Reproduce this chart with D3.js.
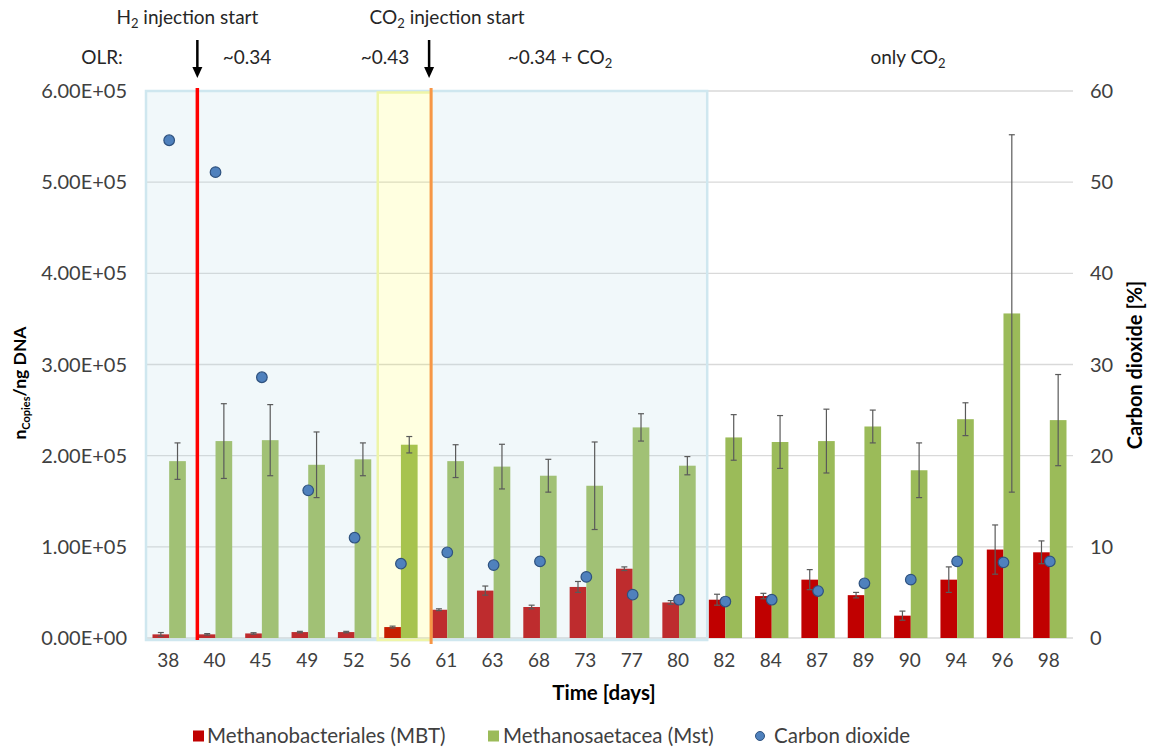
<!DOCTYPE html>
<html>
<head>
<meta charset="utf-8">
<script src="https://cdn.jsdelivr.net/npm/d3@7"></script>
<style>
  body { margin: 0; background: #fff; }
  svg { font-family: Lato, "Open Sans", sans-serif; }
</style>
</head>
<body>
<svg id="chart" width="1149" height="755"></svg>
<script>
// data
var days = ["38","40","45","49","52","56","61","63","68","73","77","80","82","84","87","89","90","94","96","98"];
var mbt    = [4000, 4000, 5000, 6500, 6500, 12000, 31000, 52000, 34000, 56000, 76000, 39000, 42000, 46000, 64000, 47000, 24500, 64000, 97000, 94000];
var mbtErr = [2000, 800, 800, 800, 800, 1000, 1000, 5000, 2000, 6000, 2000, 2000, 6000, 3000, 11000, 3000, 5000, 14000, 27000, 12500];
var mst    = [194000, 216000, 217000, 190000, 196000, 212000, 194000, 188000, 178000, 167000, 231000, 189000, 220000, 215000, 216000, 232000, 184000, 240000, 356000, 239000];
var mstErr = [20000, 41000, 39000, 36000, 18000, 9000, 18000, 24500, 18000, 48000, 15000, 10000, 25000, 29000, 35000, 18000, 30000, 18000, 196000, 50000];
var co2    = [54.6, 51.1, 28.6, 16.2, 11.0, 8.15, 9.4, 8.0, 8.4, 6.7, 4.75, 4.2, 4.0, 4.2, 5.15, 6.0, 6.4, 8.4, 8.3, 8.4];
var leftTicks = [0, 100000, 200000, 300000, 400000, 500000, 600000];
var rightTicks = [0, 10, 20, 30, 40, 50, 60];
var seriesNames = ["Methanobacteriales (MBT)", "Methanosaetacea (Mst)", "Carbon dioxide"];

var colRed = "#C00000", colGreen = "#9BBB59", colDot = "#4F81BD";

var svg = d3.select("#chart");
var margin = {top: 91, left: 146, right: 76, bottom: 117};
var W = 1149, H = 755;
var iw = W - margin.left - margin.right;
var ih = H - margin.top - margin.bottom;

var g = svg.append("g").attr("transform", "translate(" + margin.left + "," + margin.top + ")");

var x = d3.scaleBand().domain(days).range([0, iw]).paddingInner(0).paddingOuter(0);
var sub = d3.scaleBand().domain(["mbt", "mst"]).range([6.5, x.bandwidth() - 6.5]);
var y = d3.scaleLinear().domain([0, 600000]).range([ih, 0]);
var yR = d3.scaleLinear().domain([0, 60]).range([ih, 0]);

function sci(d) {
    var p = d.toExponential(2).split("e");
    var e = +p[1];
    return p[0] + "E" + (e < 0 ? "-" : "+") + String(Math.abs(e)).padStart(2, "0");
}

// gridlines
g.selectAll(".grid").data(leftTicks).enter().append("line")
    .attr("x1", 0).attr("x2", iw)
    .attr("y1", d => y(d)).attr("y2", d => y(d))
    .attr("stroke", "#D9D9D9").attr("stroke-width", 1.3);

// bars
g.selectAll(".mbt").data(days).enter().append("rect")
    .attr("x", d => x(d) + sub("mbt"))
    .attr("y", (d, i) => y(mbt[i]))
    .attr("width", sub.bandwidth())
    .attr("height", (d, i) => ih - y(mbt[i]))
    .attr("fill", colRed);
g.selectAll(".mst").data(days).enter().append("rect")
    .attr("x", d => x(d) + sub("mst"))
    .attr("y", (d, i) => y(mst[i]))
    .attr("width", sub.bandwidth())
    .attr("height", (d, i) => ih - y(mst[i]))
    .attr("fill", colGreen);

// shaded phases
var redX = x("40") + 5;
var orangeX = x("61") + 7;
var blueEnd = x("82") + 5;
var yelStart = x("56");
// blue fill left and right of the yellow phase
[[0, yelStart], [orangeX, blueEnd]].forEach(function (r) {
    g.append("rect")
        .attr("x", r[0]).attr("y", 0)
        .attr("width", r[1] - r[0]).attr("height", ih + 2)
        .attr("fill", "#B7DDE8").attr("fill-opacity", 0.2);
});
g.append("rect")
    .attr("x", 0).attr("y", 0)
    .attr("width", blueEnd).attr("height", ih + 2)
    .attr("fill", "none")
    .attr("stroke", "#CFE7EF").attr("stroke-width", 2.5);
g.append("rect")
    .attr("x", yelStart).attr("y", 1.5)
    .attr("width", orangeX - yelStart).attr("height", ih + 0.5)
    .attr("fill", "#FFFF00").attr("fill-opacity", 0.12)
    .attr("stroke", "#EEF5A8").attr("stroke-width", 2.5);

// error bars
function errBars(vals, errs, key) {
    var cx = d => x(d) + sub(key) + sub.bandwidth() / 2;
    var eg = g.append("g").attr("stroke", "#5A5A5A").attr("stroke-width", 1.2);
    eg.selectAll("line.v").data(days).enter().append("line")
        .attr("x1", cx).attr("x2", cx)
        .attr("y1", (d, i) => y(vals[i] + errs[i]))
        .attr("y2", (d, i) => y(Math.max(0, vals[i] - errs[i])));
    [1, -1].forEach(function (s) {
        eg.selectAll("line.c" + s).data(days).enter().append("line")
            .attr("x1", d => cx(d) - 3).attr("x2", d => cx(d) + 3)
            .attr("y1", (d, i) => y(Math.max(0, vals[i] + s * errs[i])))
            .attr("y2", (d, i) => y(Math.max(0, vals[i] + s * errs[i])));
    });
}
errBars(mbt, mbtErr, "mbt");
errBars(mst, mstErr, "mst");

// event lines
g.append("line").attr("x1", redX).attr("x2", redX).attr("y1", -3).attr("y2", ih + 2)
    .attr("stroke", "#FF0000").attr("stroke-width", 3.5);
g.append("line").attr("x1", orangeX).attr("x2", orangeX).attr("y1", -3).attr("y2", ih + 6)
    .attr("stroke", "#F79646").attr("stroke-width", 3);

// CO2 dots
g.selectAll(".co2").data(days).enter().append("circle")
    .attr("cx", d => x(d) + x.bandwidth() / 2)
    .attr("cy", (d, i) => yR(co2[i]))
    .attr("r", 5.3)
    .attr("fill", colDot).attr("stroke", "#2F527F").attr("stroke-width", 1.2);

// axes labels
var lab = "#404040";
g.selectAll(".lt").data(leftTicks).enter().append("text")
    .attr("x", -19).attr("y", d => y(d)).attr("dy", "0.35em")
    .attr("text-anchor", "end").attr("font-size", 20).attr("fill", lab)
    .text(sci);
g.selectAll(".rt").data(rightTicks).enter().append("text")
    .attr("x", iw + 17).attr("y", d => yR(d)).attr("dy", "0.35em")
    .attr("font-size", 20).attr("fill", lab)
    .text(d => d);
g.selectAll(".xt").data(days).enter().append("text")
    .attr("x", d => x(d) + x.bandwidth() / 2 - 1).attr("y", ih + 29)
    .attr("text-anchor", "middle").attr("font-size", 19).attr("fill", lab)
    .text(d => d);

// axis titles
svg.append("text").attr("x", 604).attr("y", 700)
    .attr("text-anchor", "middle").attr("font-size", 20.5).attr("font-weight", "bold")
    .text("Time [days]");
var lt = svg.append("text")
    .attr("transform", "translate(26,383) rotate(-90)")
    .attr("text-anchor", "middle").attr("font-size", 17.5).attr("font-weight", "bold");
lt.append("tspan").text("n");
lt.append("tspan").attr("font-size", 11).attr("dy", 4).text("Copies");
lt.append("tspan").attr("dy", -4).text("/ng DNA");
svg.append("text")
    .attr("transform", "translate(1142,365) rotate(-90)")
    .attr("text-anchor", "middle").attr("font-size", 20).attr("font-weight", "bold")
    .text("Carbon dioxide [%]");

// top annotations
function subText(sel, parts) {
    parts.forEach(function (p) {
        if (p.sub) sel.append("tspan").attr("font-size", 13).attr("dy", 4).text(p.t);
        else sel.append("tspan").attr("dy", p.after ? -4 : 0).text(p.t);
    });
}
var ann = svg.append("g").attr("font-size", 19).attr("fill", "#262626").attr("text-anchor", "middle");
subText(ann.append("text").attr("x", margin.left + redX - 10).attr("y", 24),
    [{t: "H"}, {t: "2", sub: true}, {t: " injection start", after: true}]);
subText(ann.append("text").attr("x", margin.left + orangeX + 16).attr("y", 24),
    [{t: "CO"}, {t: "2", sub: true}, {t: " injection start", after: true}]);
ann.append("text").attr("x", 102).attr("y", 64).text("OLR:");
ann.append("text").attr("x", 247).attr("y", 64).text("~0.34");
ann.append("text").attr("x", 385).attr("y", 64).text("~0.43");
subText(ann.append("text").attr("x", 560).attr("y", 64),
    [{t: "~0.34 + CO"}, {t: "2", sub: true}]);
subText(ann.append("text").attr("x", 908).attr("y", 64),
    [{t: "only CO"}, {t: "2", sub: true}]);

// arrows
[redX, orangeX - 2].forEach(function (ax) {
    var px = margin.left + ax;
    svg.append("path")
        .attr("d", "M" + px + ",40 L" + px + ",70")
        .attr("stroke", "#000").attr("stroke-width", 2.5);
    svg.append("path")
        .attr("d", "M" + (px - 5) + ",67 L" + (px + 5) + ",67 L" + px + ",78 z")
        .attr("fill", "#000");
});

// legend
var leg = svg.append("g").attr("font-size", 20.5).attr("fill", "#404040");
var ly = 736;
leg.append("rect").attr("x", 193).attr("y", ly - 5.5).attr("width", 11).attr("height", 11).attr("fill", colRed);
leg.append("rect").attr("x", 488).attr("y", ly - 5.5).attr("width", 11).attr("height", 11).attr("fill", colGreen);
leg.append("circle").attr("cx", 760).attr("cy", ly).attr("r", 4.5).attr("fill", colDot).attr("stroke", "#2F527F");
var textX = [207, 503, 774];
seriesNames.forEach(function (n, i) {
    leg.append("text").attr("x", textX[i]).attr("y", ly).attr("dy", "0.35em").text(n);
});
</script>
</body>
</html>
